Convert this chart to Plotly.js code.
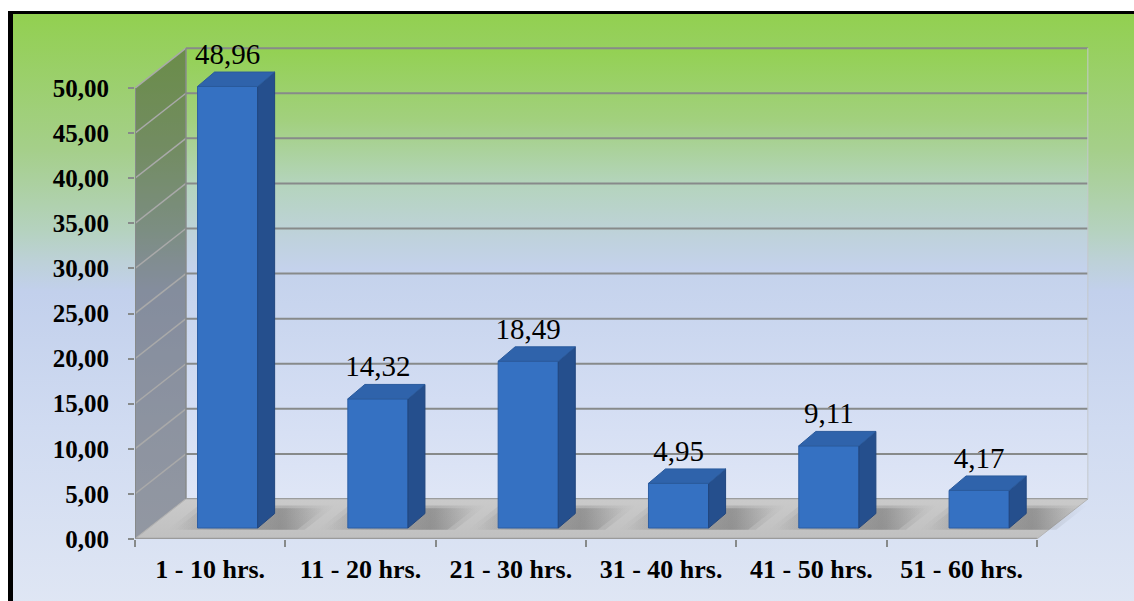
<!DOCTYPE html>
<html>
<head>
<meta charset="utf-8">
<script src="https://cdn.plot.ly/plotly-3.0.1.min.js"></script>
<style>
  html, body { margin: 0; padding: 0; background: #ffffff; }
  #frame {
    position: absolute; left: 8px; top: 11px; width: 1126px; height: 590px;
    border-left: 5px solid #000; border-top: 3px solid #000;
    background: linear-gradient(to bottom, #92d050 0%, #a5cf8a 23%, #b5d2c0 37%, #bdd1d8 42%, #c2d0ec 47%, #d0dbf1 70%, #dfe6f4 100%);
  }
  #chart { position: absolute; left: 0; top: 0; width: 1134px; height: 601px; }
</style>
</head>
<body>
<div id="frame"></div>
<div id="chart"></div>
<script>
// Hours-per-week distribution (%), drawn as an oblique 3D column chart.
const categories = ['1 - 10 hrs.', '11 - 20 hrs.', '21 - 30 hrs.', '31 - 40 hrs.', '41 - 50 hrs.', '51 - 60 hrs.'];
const values = [48.96, 14.32, 18.49, 4.95, 9.11, 4.17];
const yTicks = [0, 5, 10, 15, 20, 25, 30, 35, 40, 45, 50];

// Oblique projection in axis units
const DX = 0.339;   // depth shift of the back wall along x
const DY = 4.43;    // depth shift of the back wall along y
const FX = 0.116;   // column front face offset from the category centre
const BZ = 1.22;    // column base lift (columns stand mid-depth on the floor)
const BW = 0.40;    // column width
const SDX = 0.113;  // column depth along x
const SDY = 1.60;   // column depth along y
const YMAX = yTicks[yTicks.length - 1];
const N = categories.length;

const GRID = '#878a8a';
const SERIF = 'Liberation Serif, Times New Roman, serif';
const onBase = { xaxis: 'x', yaxis: 'y', hoverinfo: 'skip', showlegend: false, cliponaxis: false };
const onOver = { xaxis: 'x2', yaxis: 'y2', hoverinfo: 'skip', showlegend: false, cliponaxis: false };

const traces = [];

// back wall with its own soft gradient
traces.push(Object.assign({}, onBase, {
  type: 'scatter', mode: 'lines', x: [DX, N + DX, N + DX, DX, DX], y: [DY, DY, YMAX + DY, YMAX + DY, DY],
  fill: 'toself', line: { width: 0 },
  fillgradient: {
    type: 'vertical', start: DY, stop: YMAX + DY,
    colorscale: [[0, '#dfe6f6'], [0.22, '#d3ddf3'], [0.51, '#c4d2ec'], [0.58, '#bfd2dc'],
                 [0.70, '#b4d4bc'], [0.84, '#a2d07e'], [1, '#93d152']]
  }
}));

// side wall
traces.push(Object.assign({}, onBase, {
  type: 'scatter', mode: 'lines', x: [0, 0, DX, DX, 0], y: [0, YMAX, YMAX + DY, DY, 0],
  fill: 'toself', fillcolor: 'rgba(40,40,40,0.40)', line: { width: 0 }
}));

// side wall diagonals
const sx = [], sy = [];
yTicks.forEach(v => { sx.push(0, DX, null); sy.push(v, v + DY, null); });
traces.push(Object.assign({}, onBase, {
  type: 'scatter', mode: 'lines', x: sx, y: sy, line: { color: '#a9a9a9', width: 1.5 }
}));

// back wall gridlines
const gx = [], gy = [];
yTicks.forEach(v => { gx.push(DX, N + DX, null); gy.push(v + DY, v + DY, null); });
traces.push(Object.assign({}, onBase, {
  type: 'scatter', mode: 'lines', x: gx, y: gy, line: { color: GRID, width: 2 }
}));
// back wall edges
traces.push(Object.assign({}, onBase, {
  type: 'scatter', mode: 'lines', x: [DX, DX], y: [DY, YMAX + DY], line: { color: GRID, width: 1.5 }
}));
traces.push(Object.assign({}, onBase, {
  type: 'scatter', mode: 'lines', x: [N + DX, N + DX], y: [DY, YMAX + DY], line: { color: '#c4c8cc', width: 1 }
}));

// floor
traces.push(Object.assign({}, onBase, {
  type: 'scatter', mode: 'lines', x: [0, DX, N + DX, N, 0], y: [0, DY, DY, 0, 0],
  fill: 'toself', line: { color: '#b4b4b4', width: 1 },
  fillgradient: { type: 'vertical', colorscale: [[0, '#c0c0c0'], [1, '#cacaca']] }
}));

// soft column shadows on the floor
values.forEach((v, i) => {
  const c = i + 0.5 + FX;
  const k = DX / DY;
  const layers = [[0.10, 0.16], [0.05, 0.22]];
  layers.forEach(([grow, a]) => {
    const x0 = c - BW / 2 - 0.10 - grow, x1 = c + BW / 2 + SDX + 0.10 + grow;
    const y0 = BZ - 0.2, y1 = BZ + SDY + 0.3 + grow * 6;
    traces.push(Object.assign({}, onBase, {
      type: 'scatter', mode: 'lines',
      x: [x0, x1, x1 + (y1 - y0) * k, x0 + (y1 - y0) * k, x0], y: [y0, y0, y1, y1, y0],
      fill: 'toself', line: { width: 0 },
      fillgradient: {
        type: 'horizontal', start: x0, stop: x1 + (y1 - y0) * k,
        colorscale: [[0, 'rgba(60,60,60,0)'], [0.25, 'rgba(60,60,60,' + (a * 0.6) + ')'],
                     [0.7, 'rgba(50,50,50,' + a + ')'], [1, 'rgba(60,60,60,0)']]
      }
    }));
  });
});

// front axis line and floor edge
traces.push(Object.assign({}, onBase, {
  type: 'scatter', mode: 'lines', x: [0, 0], y: [0, YMAX], line: { color: GRID, width: 2 }
}));
traces.push(Object.assign({}, onBase, {
  type: 'scatter', mode: 'lines', x: [0, N], y: [0, 0], line: { color: '#9a9a9a', width: 2.5 }
}));

// column front faces
traces.push(Object.assign({}, onOver, {
  type: 'bar', x: values.map((v, i) => i + 0.5 + FX), y: values, base: BZ, width: BW,
  marker: { color: '#3571c2', line: { color: '#2c5ea4', width: 1 } }
}));

// column side and top faces
values.forEach((v, i) => {
  const c = i + 0.5 + FX, xL = c - BW / 2, xR = c + BW / 2, t = BZ + v;
  traces.push(Object.assign({}, onOver, {
    type: 'scatter', mode: 'lines',
    x: [xR, xR, xR + SDX, xR + SDX, xR], y: [BZ, t, t + SDY, BZ + SDY, BZ],
    fill: 'toself', fillcolor: '#254f8d', line: { color: '#21467e', width: 1 }
  }));
  traces.push(Object.assign({}, onOver, {
    type: 'scatter', mode: 'lines',
    x: [xL, xR, xR + SDX, xL + SDX, xL], y: [t, t, t + SDY, t + SDY, t],
    fill: 'toself', fillcolor: '#2f63ab', line: { color: '#2a5a9c', width: 1 }
  }));
});

// value labels
traces.push(Object.assign({}, onOver, {
  type: 'scatter', mode: 'text',
  x: values.map((v, i) => i + 0.5 + FX), y: values.map(v => BZ + v + 3.3),
  text: values.map(v => v.toFixed(2).replace('.', ',')),
  textposition: 'middle center',
  textfont: { family: SERIF, size: 29, color: '#000' }
}));

const XR = [0, 6.4], YR = [0, 55];
const layout = {
  width: 1134, height: 601,
  margin: { l: 135, r: 37, t: 43, b: 62 },
  paper_bgcolor: 'rgba(0,0,0,0)', plot_bgcolor: 'rgba(0,0,0,0)',
  separators: ',.',
  showlegend: false,
  barmode: 'overlay',
  xaxis: {
    range: XR, fixedrange: true, showgrid: false, zeroline: false, showline: false,
    tickvals: categories.map((c, i) => i + 0.5), ticktext: categories, ticks: '',
    ticklabelstandoff: 12,
    tickfont: { family: SERIF, size: 26, color: '#000', weight: 'bold' }
  },
  yaxis: {
    range: YR, fixedrange: true, showgrid: false, zeroline: false, showline: false,
    tickvals: yTicks, tickformat: '.2f', ticks: 'outside', ticklen: 6, tickwidth: 2, tickcolor: GRID,
    ticklabelstandoff: 14,
    tickfont: { family: SERIF, size: 25, color: '#000', weight: 'bold' }
  },
  xaxis2: {
    range: XR, overlaying: 'x', anchor: 'y2', fixedrange: true, showgrid: false, zeroline: false,
    tickvals: categories.map((c, i) => i).concat([N]), ticks: 'outside', ticklen: 7, tickwidth: 2, tickcolor: GRID,
    showticklabels: false
  },
  yaxis2: {
    range: YR, overlaying: 'y', anchor: 'x2', fixedrange: true, showgrid: false, zeroline: false,
    showticklabels: false, ticks: ''
  }
};

Plotly.newPlot('chart', traces, layout, { staticPlot: true, displayModeBar: false });
</script>
</body>
</html>
